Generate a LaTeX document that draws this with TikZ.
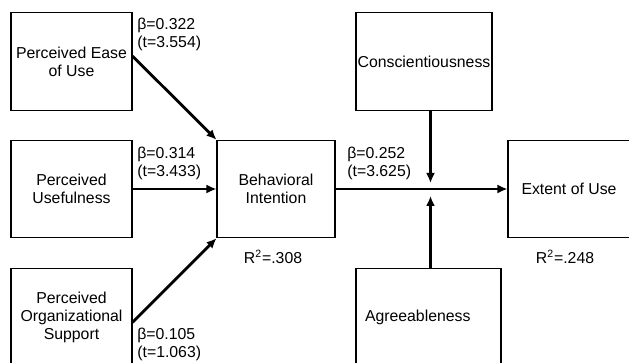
\documentclass[tikz,border=0pt]{standalone}
\usepackage{fontspec}
\setmainfont{Liberation Sans}
\usetikzlibrary{arrows.meta}

\begin{document}
\begin{tikzpicture}[scale=1.0,>={Latex[length=2mm,width=1.8mm]},
  font=\fontsize{9}{10.2}\selectfont,
  box/.style={draw,line width=0.6pt,inner sep=0pt,align=center,minimum height=1.95cm},
  effect/.style={->,line width=1.6pt},
  coef/.style={anchor=north west,align=left,inner sep=0pt}]
\useasboundingbox (0,0) rectangle (12.58,7.24);
% constructs
\node[box,minimum width=2.42cm] (peou) at (1.43,6.01) {Perceived Ease\\of Use};
\node[box,minimum width=2.42cm] (pu) at (1.43,3.46) {Perceived\\Usefulness};
\node[box,minimum width=2.42cm] (pos) at (1.43,0.90) {Perceived\\Organizational\\Support};
\node[box,minimum width=2.36cm] (bi) at (5.52,3.46) {Behavioral\\Intention};
\node[box,minimum width=2.72cm] (con) at (8.48,6.01) {Conscientiousness};
\node[box,minimum width=2.90cm,text width=2.54cm,align=left] (agr) at (8.57,0.90) {Agreeableness};
\node[box,minimum width=2.44cm] (eou) at (11.38,3.46) {Extent of Use};
\coordinate (mod) at (8.61,3.46);
% paths
\draw[effect] (peou.5) -- (bi.north west);
\draw[effect] (pu) -- (bi);
\draw[effect] (pos.-5) -- (bi.south west);
\draw[effect] (bi) -- (eou);
\draw[effect] (con.south -| mod) -- ([yshift=0.12cm]mod);
\draw[effect] (agr.north -| mod) -- ([yshift=-0.14cm]mod);
% coefficients
\node[coef] (c1) at (2.74,6.88) {β=0.322\\(t=3.554)};
\node[coef] (c2) at (2.74,4.30) {β=0.314\\(t=3.433)};
\node[coef] (c3) at (2.74,0.68) {β=0.105\\(t=1.063)};
\node[coef] (c4) at (6.94,4.30) {β=0.252\\(t=3.625)};
\node (r1) at (5.46,2.10) {R\textsuperscript{2}=.308};
\node (r2) at (11.30,2.10) {R\textsuperscript{2}=.248};
\end{tikzpicture}
\end{document}
